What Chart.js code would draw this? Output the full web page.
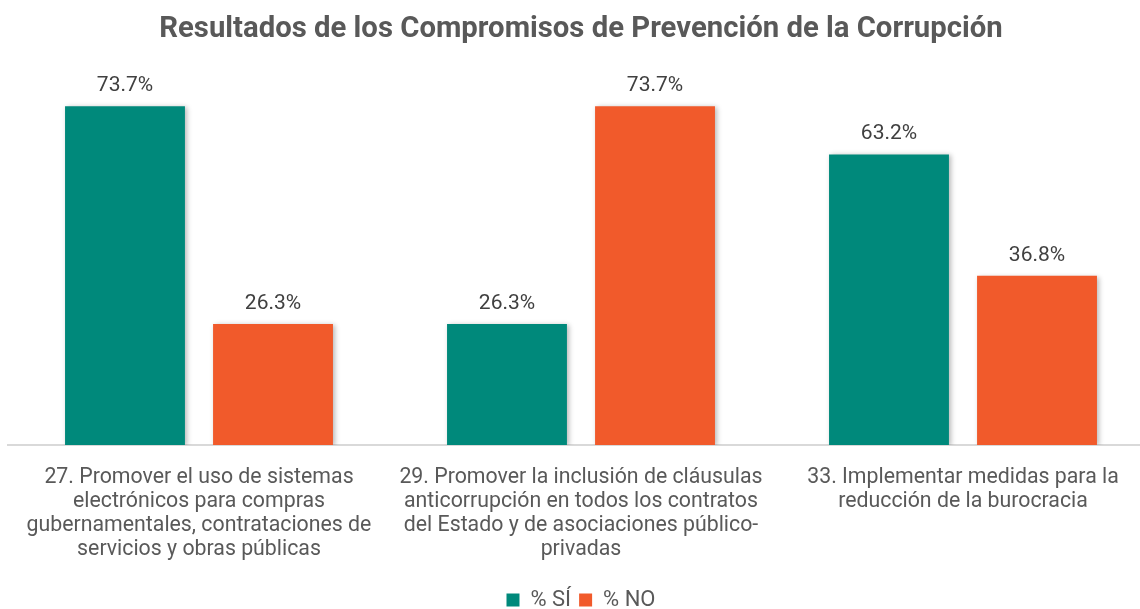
<!DOCTYPE html>
<html>
<head>
<meta charset="utf-8">
<script src="https://cdn.jsdelivr.net/npm/chart.js@4.4.1/dist/chart.umd.min.js"></script>
<style>
  html, body { margin: 0; padding: 0; background: #fff; overflow: hidden; }
  #wrap { width: 1160px; height: 621px; }
</style>
</head>
<body>
<div id="wrap"><canvas id="myChart"></canvas></div>
<script>
"use strict";
const categories = [
    ["27. Promover el uso de sistemas", "electrónicos para compras", "gubernamentales, contrataciones de", "servicios y obras públicas"],
    ["29. Promover la inclusión de cláusulas", "anticorrupción en todos los contratos", "del Estado y de asociaciones público-", "privadas"],
    ["33. Implementar medidas para la", "reducción de la burocracia"]
];
const seriesNames = ["% SÍ", "% NO"];
const siValues = [73.7, 26.3, 63.2];
const noValues = [26.3, 73.7, 36.8];

const barLabels = {
    id: 'barLabels',
    afterDatasetsDraw(chart) {
        const ctx = chart.ctx;
        ctx.save();
        ctx.font = '21px Roboto';
        ctx.fillStyle = '#404040';
        ctx.textAlign = 'center';
        ctx.textBaseline = 'bottom';
        chart.data.datasets.forEach((ds, i) => {
            chart.getDatasetMeta(i).data.forEach((bar, j) => {
                ctx.fillText(ds.data[j].toFixed(1) + '%', bar.x, bar.y - 10);
            });
        });
        ctx.restore();
    }
};

const barShadow = {
    id: 'barShadow',
    beforeDatasetsDraw(chart) {
        const ctx = chart.ctx;
        ctx.save();
        ctx.shadowColor = 'rgba(0,0,0,0.28)';
        ctx.shadowBlur = 5;
        ctx.shadowOffsetX = 2;
        ctx.shadowOffsetY = 1;
    },
    afterDatasetsDraw(chart) {
        chart.ctx.restore();
    }
};

let myChart = document.getElementById("myChart").getContext('2d');
let barChart = new Chart(myChart, {
    type: 'bar',
    data: {
        labels: categories,
        datasets: [{
            label: seriesNames[0],
            data: siValues,
            backgroundColor: '#00897b',
            categoryPercentage: 0.775,
            barPercentage: 0.81
        }, {
            label: seriesNames[1],
            data: noValues,
            backgroundColor: '#f15a2b',
            categoryPercentage: 0.775,
            barPercentage: 0.81
        }]
    },
    plugins: [barShadow, barLabels],
    options: {
        responsive: true,
        maintainAspectRatio: false,
        animation: false,
        layout: {
            padding: { left: 8, right: 6, top: 0, bottom: 0 }
        },
        scales: {
            x: {
                grid: { display: false },
                border: { color: '#d9d9d9', width: 2 },
                ticks: {
                    color: '#595959',
                    font: { family: 'Roboto', size: 21.3, lineHeight: 1.127 },
                    maxRotation: 0,
                    autoSkip: false,
                    padding: 13
                },
                afterFit(scale) {
                    scale.height = 136;
                }
            },
            y: {
                min: 0,
                max: 80,
                display: false
            }
        },
        plugins: {
            title: {
                display: true,
                text: 'Resultados de los Compromisos de Prevención de la Corrupción',
                color: '#595959',
                font: { family: 'Roboto', size: 29.3, weight: 'bold' },
                padding: { top: 12, bottom: 30 }
            },
            legend: {
                display: true,
                position: 'bottom',
                labels: {
                    color: '#595959',
                    font: { family: 'Roboto', size: 22 },
                    boxWidth: 13,
                    boxHeight: 13,
                    padding: 8
                }
            },
            tooltip: { enabled: false }
        }
    }
});
</script>
</body>
</html>
